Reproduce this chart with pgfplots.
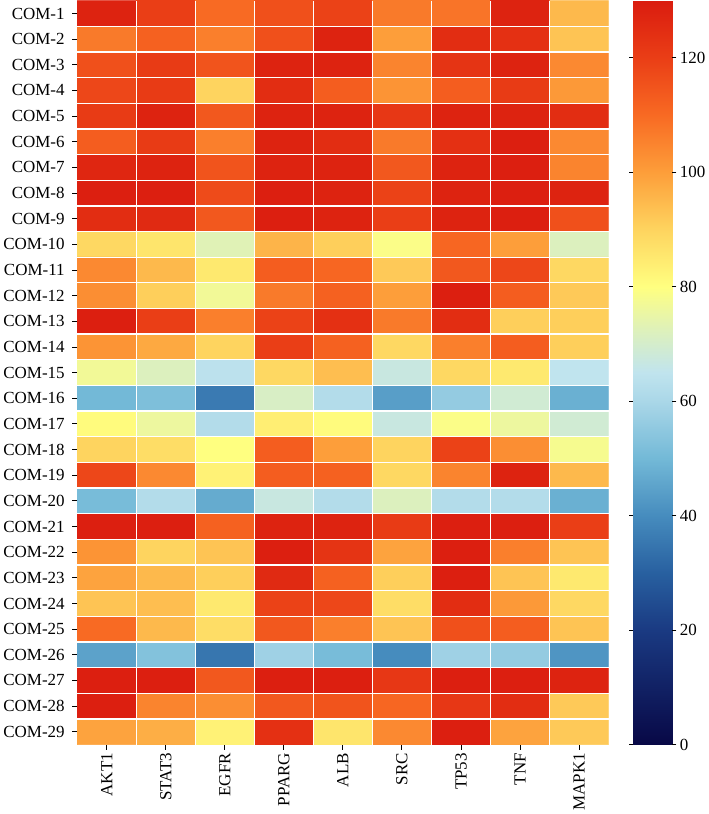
\documentclass[border=0pt]{standalone}
\usepackage{pgfplots}
\pgfplotsset{compat=1.18}
\usepackage{fontspec}
\setmainfont{Liberation Serif}
\begin{document}
\begin{tikzpicture}
\begin{axis}[
    width=530bp, height=742bp,
    scale only axis,
    y dir=reverse,
    xmin=-0.5, xmax=8.5, ymin=-0.5, ymax=28.5,
    axis on top,
    axis line style={draw=none},
    tick align=outside, tick pos=left,
    major tick length=5bp,
    tick style={black, line width=0.9pt},
    xtick={0,...,8},
    xticklabels={AKT1,STAT3,EGFR,PPARG,ALB,SRC,TP53,TNF,MAPK1},
    xticklabel style={rotate=90, anchor=east},
    ytick={0,...,28},
    yticklabels={COM-1,COM-2,COM-3,COM-4,COM-5,COM-6,COM-7,COM-8,COM-9,COM-10,
      COM-11,COM-12,COM-13,COM-14,COM-15,COM-16,COM-17,COM-18,COM-19,COM-20,
      COM-21,COM-22,COM-23,COM-24,COM-25,COM-26,COM-27,COM-28,COM-29},
    tick label style={font=\fontsize{17}{19}\selectfont},
    yticklabel style={xshift=-4bp},
    extra x ticks={0.5,1.5,...,7.5},
    extra x tick labels={},
    extra x tick style={major tick length=0pt, grid=major, major grid style={white, line width=1.3pt}},
    extra y ticks={0.5,1.5,...,27.5},
    extra y tick labels={},
    extra y tick style={major tick length=0pt, grid=major, major grid style={white, line width=1.3pt}},
    colormap={heat}{
      rgb255(0)=(8,8,70) rgb255(20)=(26,58,130) rgb255(30)=(40,96,160)
      rgb255(40)=(70,140,190) rgb255(50)=(115,185,215) rgb255(60)=(170,215,232)
      rgb255(65)=(192,228,238) rgb255(72)=(220,240,190) rgb255(80)=(255,255,128)
      rgb255(90)=(254,212,95) rgb255(100)=(253,158,58) rgb255(110)=(248,106,35)
      rgb255(120)=(234,62,22) rgb255(130)=(218,28,15)},
    point meta min=0, point meta max=130,
    colorbar right,
    colorbar/width=39bp,
    colorbar style={
      at={(parent axis.north east)}, anchor=north west, xshift=16bp,
      axis line style={draw=none},
      ytick={0,20,...,120},
      tick align=outside,
      major tick length=4bp,
      tick style={black, line width=0.9pt},
      yticklabel style={xshift=0bp, font=\fontsize{17}{19}\selectfont, /pgf/number format/assume math mode=true},
    },
]
\addplot[matrix plot*, mesh/cols=9, mesh/rows=29, point meta=explicit]
  table[row sep=\\, meta=v] {
x y v\\
0 0 128\\ 1 0 120\\ 2 0 110\\ 3 0 116\\ 4 0 119\\ 5 0 107\\ 6 0 108\\ 7 0 128\\ 8 0 95\\
0 1 107\\ 1 1 112\\ 2 1 106\\ 3 1 116\\ 4 1 128\\ 5 1 100\\ 6 1 125\\ 7 1 124\\ 8 1 93\\
0 2 116\\ 1 2 121\\ 2 2 115\\ 3 2 128\\ 4 2 128\\ 5 2 105\\ 6 2 123\\ 7 2 128\\ 8 2 104\\
0 3 118\\ 1 3 121\\ 2 3 90\\ 3 3 125\\ 4 3 113\\ 5 3 102\\ 6 3 113\\ 7 3 121\\ 8 3 101\\
0 4 121\\ 1 4 128\\ 2 4 114\\ 3 4 128\\ 4 4 128\\ 5 4 122\\ 6 4 128\\ 7 4 128\\ 8 4 125\\
0 5 113\\ 1 5 121\\ 2 5 106\\ 3 5 128\\ 4 5 125\\ 5 5 107\\ 6 5 124\\ 7 5 129\\ 8 5 104\\
0 6 127\\ 1 6 128\\ 2 6 115\\ 3 6 128\\ 4 6 128\\ 5 6 114\\ 6 6 128\\ 7 6 129\\ 8 6 105\\
0 7 129\\ 1 7 129\\ 2 7 117\\ 3 7 129\\ 4 7 128\\ 5 7 119\\ 6 7 128\\ 7 7 129\\ 8 7 128\\
0 8 125\\ 1 8 126\\ 2 8 114\\ 3 8 129\\ 4 8 128\\ 5 8 120\\ 6 8 128\\ 7 8 129\\ 8 8 116\\
0 9 89\\ 1 9 86\\ 2 9 73\\ 3 9 96\\ 4 9 91\\ 5 9 79\\ 6 9 111\\ 7 9 100\\ 8 9 72\\
0 10 104\\ 1 10 95\\ 2 10 85\\ 3 10 113\\ 4 10 111\\ 5 10 92\\ 6 10 114\\ 7 10 118\\ 8 10 89\\
0 11 103\\ 1 11 91\\ 2 11 77\\ 3 11 107\\ 4 11 112\\ 5 11 100\\ 6 11 129\\ 7 11 113\\ 8 11 92\\
0 12 129\\ 1 12 120\\ 2 12 106\\ 3 12 119\\ 4 12 124\\ 5 12 107\\ 6 12 125\\ 7 12 91\\ 8 12 91\\
0 13 102\\ 1 13 98\\ 2 13 90\\ 3 13 120\\ 4 13 112\\ 5 13 89\\ 6 13 106\\ 7 13 113\\ 8 13 91\\
0 14 77\\ 1 14 72\\ 2 14 64\\ 3 14 89\\ 4 14 94\\ 5 14 67\\ 6 14 89\\ 7 14 85\\ 8 14 65\\
0 15 50\\ 1 15 52\\ 2 15 36\\ 3 15 71\\ 4 15 62\\ 5 15 44\\ 6 15 56\\ 7 15 69\\ 8 15 48\\
0 16 81\\ 1 16 76\\ 2 16 62\\ 3 16 84\\ 4 16 81\\ 5 16 67\\ 6 16 79\\ 7 16 76\\ 8 16 69\\
0 17 90\\ 1 17 88\\ 2 17 80\\ 3 17 113\\ 4 17 100\\ 5 17 90\\ 6 17 119\\ 7 17 103\\ 8 17 78\\
0 18 118\\ 1 18 104\\ 2 18 83\\ 3 18 113\\ 4 18 112\\ 5 18 89\\ 6 18 105\\ 7 18 128\\ 8 18 95\\
0 19 51\\ 1 19 62\\ 2 19 47\\ 3 19 67\\ 4 19 62\\ 5 19 72\\ 6 19 62\\ 7 19 62\\ 8 19 48\\
0 20 129\\ 1 20 129\\ 2 20 112\\ 3 20 128\\ 4 20 128\\ 5 20 121\\ 6 20 129\\ 7 20 129\\ 8 20 120\\
0 21 102\\ 1 21 90\\ 2 21 93\\ 3 21 129\\ 4 21 123\\ 5 21 99\\ 6 21 129\\ 7 21 106\\ 8 21 93\\
0 22 99\\ 1 22 95\\ 2 22 91\\ 3 22 126\\ 4 22 112\\ 5 22 91\\ 6 22 129\\ 7 22 93\\ 8 22 85\\
0 23 93\\ 1 23 94\\ 2 23 85\\ 3 23 119\\ 4 23 118\\ 5 23 88\\ 6 23 125\\ 7 23 101\\ 8 23 89\\
0 24 110\\ 1 24 95\\ 2 24 88\\ 3 24 114\\ 4 24 106\\ 5 24 93\\ 6 24 116\\ 7 24 113\\ 8 24 93\\
0 25 45\\ 1 25 53\\ 2 25 35\\ 3 25 58\\ 4 25 51\\ 5 25 40\\ 6 25 58\\ 7 25 56\\ 8 25 42\\
0 26 129\\ 1 26 129\\ 2 26 114\\ 3 26 129\\ 4 26 129\\ 5 26 122\\ 6 26 129\\ 7 26 129\\ 8 26 128\\
0 27 129\\ 1 27 105\\ 2 27 103\\ 3 27 114\\ 4 27 115\\ 5 27 111\\ 6 27 122\\ 7 27 125\\ 8 27 92\\
0 28 99\\ 1 28 97\\ 2 28 83\\ 3 28 124\\ 4 28 86\\ 5 28 104\\ 6 28 129\\ 7 28 99\\ 8 28 92\\
};
\end{axis}
\end{tikzpicture}
\end{document}
